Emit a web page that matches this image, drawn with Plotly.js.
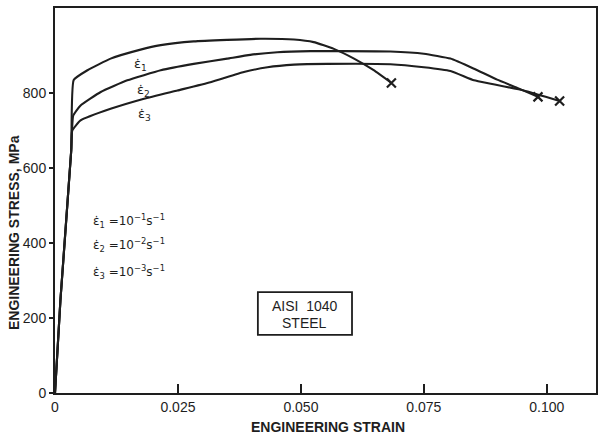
<!DOCTYPE html>
<html>
<head>
<meta charset="utf-8">
<script src="https://cdn.plot.ly/plotly-3.0.1.min.js"></script>
<style>
  html, body { margin: 0; padding: 0; background: #fff; }
  #chart { width: 598px; height: 439px; }
</style>
</head>
<body>
<div id="chart"></div>
<script>
// Strain-rate curves for AISI 1040 steel (engineering strain vs. engineering stress, MPa)
const strain1 = [0, 0.0011, 0.0033, 0.0038, 0.0066, 0.0113, 0.0174, 0.0215, 0.0282, 0.0350, 0.0418, 0.0486, 0.0526, 0.0567, 0.0608, 0.0648, 0.0684];
const stress1 = [0, 247, 647, 835, 861, 892, 916, 928, 938, 942, 945, 943, 936, 918, 892, 861, 827];

const strain2 = [0, 0.0011, 0.0033, 0.0037, 0.0052, 0.0093, 0.0147, 0.0215, 0.0282, 0.0350, 0.0397, 0.0452, 0.0520, 0.0587, 0.0682, 0.0750, 0.0804, 0.0852, 0.0899, 0.0940, 0.0982];
const stress2 = [0, 247, 647, 740, 767, 803, 834, 861, 878, 892, 902, 909, 912, 912, 911, 905, 892, 865, 836, 814, 790];

const strain3 = [0, 0.0011, 0.0033, 0.0035, 0.0052, 0.0113, 0.0181, 0.0249, 0.0316, 0.0384, 0.0432, 0.0486, 0.0554, 0.0682, 0.0750, 0.0804, 0.0852, 0.0886, 0.0953, 0.1026];
const stress3 = [0, 247, 647, 700, 727, 758, 785, 807, 829, 856, 869, 876, 878, 877, 869, 859, 834, 825, 807, 779];

const xTickVals = [0, 0.025, 0.050, 0.075, 0.100];
const xTickText = ["0", "0.025", "0.050", "0.075", "0.100"];
const yTickVals = [0, 200, 400, 600, 800];
const yTickText = ["0", "200", "400", "600", "800"];

const curveLabels = ["\u03B5\u0307<sub>1</sub>", "\u03B5\u0307<sub>2</sub>", "\u03B5\u0307<sub>3</sub>"];
const rateLabels = [
  "\u03B5\u0307<sub>1</sub> =10<sup>\u22121</sup>s<sup>\u22121</sup>",
  "\u03B5\u0307<sub>2</sub> =10<sup>\u22122</sup>s<sup>\u22121</sup>",
  "\u03B5\u0307<sub>3</sub> =10<sup>\u22123</sup>s<sup>\u22121</sup>"
];
const boxLines = ["AISI\u00A0\u00A01040", "STEEL"];

const ink = "#1e1e1e";
const FONT = "Liberation Sans, Arial, sans-serif";
const GREEK = "DejaVu Sans, sans-serif";

function curve(x, y) {
  return {
    x: x, y: y, type: "scatter", mode: "lines",
    line: { color: ink, width: 2.1, shape: "spline", smoothing: 0.4 },
    hoverinfo: "skip", showlegend: false
  };
}
const ends = {
  x: [strain1[strain1.length - 1], strain2[strain2.length - 1], strain3[strain3.length - 1]],
  y: [stress1[stress1.length - 1], stress2[stress2.length - 1], stress3[stress3.length - 1]],
  type: "scatter", mode: "markers",
  marker: { symbol: "x-thin", size: 9, line: { color: ink, width: 2.2 } },
  showlegend: false, hoverinfo: "skip"
};

const data = [curve(strain1, stress1), curve(strain2, stress2), curve(strain3, stress3), ends];

const annotations = [];
// curve labels
const labelPos = [[0.0174, 876], [0.0179, 807], [0.0182, 743]];
curveLabels.forEach((t, i) => annotations.push({
  x: labelPos[i][0], y: labelPos[i][1], xref: "x", yref: "y", xanchor: "center", yanchor: "middle",
  text: t, showarrow: false, font: { family: GREEK, size: 13, color: ink }
}));
// rate definitions
const rateY = [460, 394, 322];
rateLabels.forEach((t, i) => annotations.push({
  x: 0.0074, y: rateY[i], xref: "x", yref: "y", xanchor: "left", yanchor: "middle",
  text: t, showarrow: false, font: { family: GREEK, size: 12, color: ink }
}));
// steel box text
annotations.push({ x: 0.462, y: 0.227, xref: "paper", yref: "paper", xanchor: "center", yanchor: "middle",
  text: boxLines[0], showarrow: false, font: { family: FONT, size: 14, color: ink } });
annotations.push({ x: 0.462, y: 0.182, xref: "paper", yref: "paper", xanchor: "center", yanchor: "middle",
  text: boxLines[1], showarrow: false, font: { family: FONT, size: 14, color: ink } });
// axis titles
annotations.push({ x: -0.0758, y: 0.418, xref: "paper", yref: "paper", xanchor: "center", yanchor: "middle",
  text: "ENGINEERING STRESS, MPa", textangle: -90, showarrow: false,
  font: { family: FONT, size: 14, color: ink, weight: "bold" } });
annotations.push({ x: 0.505, y: -0.088, xref: "paper", yref: "paper", xanchor: "center", yanchor: "middle",
  text: "ENGINEERING STRAIN", showarrow: false,
  font: { family: FONT, size: 14, color: ink, weight: "bold" } });

const layout = {
  width: 598, height: 439,
  margin: { l: 55, r: 2, t: 8, b: 46, pad: 0 },
  paper_bgcolor: "#fff", plot_bgcolor: "#fff",
  font: { family: FONT, size: 14, color: ink },
  showlegend: false,
  xaxis: {
    range: [0, 0.110], tickvals: xTickVals, ticktext: xTickText,
    ticks: "inside", ticklen: 9, tickwidth: 2, tickcolor: ink,
    showline: true, linewidth: 2, linecolor: ink, mirror: true,
    showgrid: false, zeroline: false,
    tickfont: { family: FONT, size: 14, color: ink }
  },
  yaxis: {
    range: [0, 1027], tickvals: yTickVals, ticktext: yTickText,
    ticks: "outside", ticklen: 4, tickwidth: 2, tickcolor: ink,
    showline: true, linewidth: 2, linecolor: ink, mirror: true,
    showgrid: false, zeroline: false,
    tickfont: { family: FONT, size: 14, color: ink }
  },
  shapes: [{
    type: "rect", xref: "paper", yref: "paper",
    x0: 0.375, x1: 0.549, y0: 0.151, y1: 0.262,
    line: { color: ink, width: 1.8 }, fillcolor: "rgba(0,0,0,0)"
  }],
  annotations: annotations
};

Plotly.newPlot("chart", data, layout, { staticPlot: true, displayModeBar: false });
</script>
</body>
</html>
